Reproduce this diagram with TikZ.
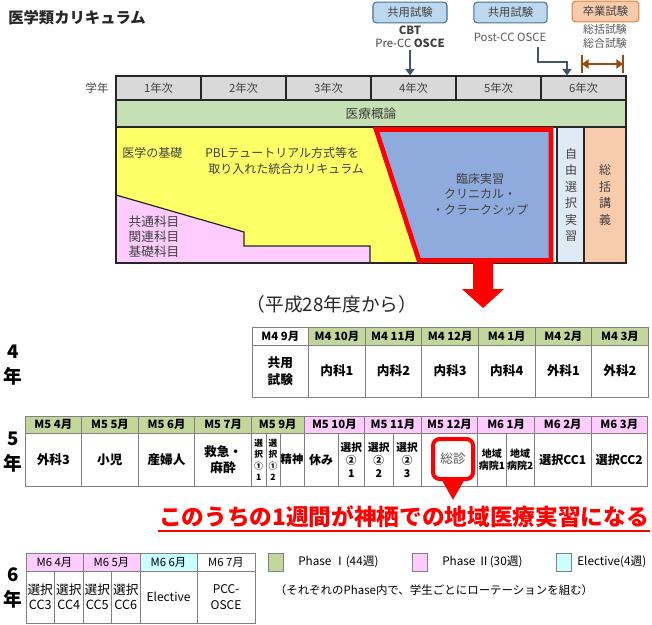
\documentclass[tikz,border=0pt]{standalone}
\usepackage{fontspec}
\setmainfont{Noto Sans CJK JP}
\usetikzlibrary{arrows.meta}
\definecolor{textgray}{HTML}{404040}
\definecolor{lightgray}{HTML}{595959}
\definecolor{framec}{HTML}{262626}
\definecolor{exfill}{HTML}{BDD7EE}
\definecolor{exborder}{HTML}{41719C}
\definecolor{gradfill}{HTML}{F8CBAD}
\definecolor{gradborder}{HTML}{ED7D31}
\definecolor{slate}{HTML}{44546A}
\definecolor{gradbrown}{HTML}{9C4A12}
\definecolor{yeargray}{HTML}{D9D9D9}
\definecolor{introgreen}{HTML}{C5E0B4}
\definecolor{basicyellow}{HTML}{FFFF66}
\definecolor{basicpink}{HTML}{FFCCFF}
\definecolor{clinblue}{HTML}{8FAADC}
\definecolor{freeblue}{HTML}{DEEBF7}
\definecolor{sumorange}{HTML}{F8CBAD}
\definecolor{phaseI}{HTML}{C4D79B}
\definecolor{phaseII}{HTML}{FFCCFF}
\definecolor{electcyan}{HTML}{CCFFFF}
\definecolor{tabline}{HTML}{808080}
\definecolor{kred}{HTML}{FF0000}

\begin{document}
\begin{tikzpicture}[x=0.75pt, y=-0.75pt,
    gtext/.style={text=textgray, inner sep=0pt, align=center, font=\fontsize{9}{12}\selectfont},
    exbox/.style={draw=exborder, fill=exfill, rounded corners=2.5pt, line width=0.8pt,
      minimum height=15.5pt, text=textgray, font=\fontsize{8.5}{10}\selectfont},
    yearcell/.style={draw=framec, fill=yeargray, line width=0.8pt, minimum width=63.75pt,
      minimum height=18pt, text=textgray, font=\fontsize{8.5}{10}\selectfont},
    exarrow/.style={draw=slate, line width=1.8pt, -{Triangle[width=7pt,length=5pt]}},
    gradline/.style={draw=gradbrown, line width=2pt},
    block/.style={draw=framec, line width=0.9pt},
    tab/.style={draw=tabline, line width=0.6pt},
    hd/.style={inner sep=0pt, font=\bfseries\fontsize{8.5}{10}\selectfont},
    bd/.style={inner sep=0pt, align=center, font=\bfseries\fontsize{9.5}{12.5}\selectfont},
    sm/.style={inner sep=0pt, align=center, font=\bfseries\fontsize{6.5}{8.6}\selectfont},
    yrlabel/.style={inner sep=0pt, align=center, font=\bfseries\fontsize{14}{18.5}\selectfont},
    legbox/.style={draw=tabline, line width=0.6pt, minimum width=11.25pt, minimum height=13.5pt, inner sep=0pt}]
  \useasboundingbox (0,0) rectangle (652,624);

  % title and exams
  \node[anchor=west, inner sep=0pt, text=framec, font=\bfseries\fontsize{11.5}{14}\selectfont] (title) at (8,18) {医学類カリキュラム};
  \node[exbox, minimum width=55.5pt] (exA) at (410,12.5) {共用試験};
  \node[exbox, minimum width=55pt] (exB) at (510.5,12.5) {共用試験};
  \node[exbox, draw=gradborder, fill=gradfill, minimum width=50pt] (exC) at (605.5,11.5) {卒業試験};
  \node[gtext, font=\bfseries\fontsize{8.5}{10}\selectfont] (cbt) at (410,30) {CBT};
  \node[gtext, font=\fontsize{8.5}{10}\selectfont] (precc) at (410,43) {Pre-CC \textbf{OSCE}};
  \node[gtext, text=lightgray, font=\fontsize{8.5}{10}\selectfont] (postcc) at (510,37) {Post-CC OSCE};
  \node[gtext, text=lightgray, font=\fontsize{8.2}{10.5}\selectfont] (sokatsu) at (605,36) {総括試験\\総合試験};

  % years
  \node[gtext, font=\fontsize{8.5}{10}\selectfont] (gakunen) at (97,88) {学年};
  \node[yearcell] (y1) at (158.5,88) {1年次};
  \node[yearcell] (y2) at (243.5,88) {2年次};
  \node[yearcell] (y3) at (328.5,88) {3年次};
  \node[yearcell] (y4) at (413.5,88) {4年次};
  \node[yearcell] (y5) at (498.5,88) {5年次};
  \node[yearcell] (y6) at (583.5,88) {6年次};

  \draw[exarrow, shorten <=2pt] (precc.south) -- (precc.south |- y4.north);
  \coordinate (postout) at (538,47);
  \coordinate (postturn) at (567,62);
  \draw[exarrow] (postout) |- (postturn) -- (postturn |- y6.north);
  \coordinate (gradL) at (582,64);
  \coordinate (gradR) at (623,64);
  \draw[gradline] (gradL) ++(0,-9) -- ++(0,18);
  \draw[gradline] (gradR) ++(0,-9) -- ++(0,18);
  \draw[gradline, {Triangle[width=7pt,length=5pt]}-{Triangle[width=7pt,length=5pt]}] (gradL) -- (gradR);

  % curriculum block
  \node[block, fill=introgreen, minimum width=382.5pt, minimum height=20.25pt, inner sep=0pt,
    text=textgray, font=\fontsize{9.5}{12}\selectfont] (intro) at (371,113.5) {医療概論};
  \fill[basicyellow] (116,127) -- (375,127) -- (418,263) -- (116,263) -- cycle;
  \filldraw[block, fill=basicpink] (116,195) -- (244,232) -- (244,246) -- (370,246) -- (370,263) -- (116,263) -- cycle;
  \draw[block] (116,127) rectangle (626,263);
  \filldraw[block, fill=freeblue] (557,127) rectangle (584,263);
  \filldraw[block, fill=sumorange] (584,127) rectangle (626,263);
  \filldraw[fill=clinblue, draw=kred, line width=3.5pt] (376,129.5) -- (551,129.5) -- (551,260.5) -- (419,260.5) -- cycle;

  \node[gtext, anchor=west] (kiso) at (122,153) {医学の基礎};
  \node[gtext, anchor=west] (pbl) at (205,153) {PBLテュートリアル方式等を};
  \node[gtext, anchor=west] (pbl2) at (208,169) {取り入れた統合カリキュラム};
  \node[gtext, align=left, font=\fontsize{9.5}{11.3}\selectfont] (kyotsu) at (154,237) {共通科目\\関連科目\\基礎科目};
  \node[gtext, font=\fontsize{9}{11.6}\selectfont] (rinsho) at (480,194) {臨床実習\\クリニカル・\\・クラークシップ};
  \node[gtext, font=\fontsize{9}{12.4}\selectfont] (jiyu) at (571,195) {自\\由\\選\\択\\実\\習};
  \node[gtext, font=\fontsize{9}{12.4}\selectfont] (sokatsuk) at (605,195) {総\\括\\講\\義};

  \fill[kred] (473,263) -- (493,263) -- (493,289) -- (504,289) -- (483,308) -- (462,289) -- (473,289) -- cycle;
  \node[inner sep=0pt, text=framec, font=\fontsize{14}{16}\selectfont] (heisei) at (332,304) {（平成28年度から）};

  % 4th year
  \node[yrlabel] (lab4) at (13,365) {4\\年};
  \fill[phaseI] (308.6,327) rectangle (648,345);
  \draw[tab] (252,327) rectangle (648,397);
  \draw[tab] (252,345) -- (648,345);
  \foreach \x in {308.6,365.2,421.8,478.4,535,591.6} \draw[tab] (\x,327) -- (\x,397);
  \node[hd] (h4a) at (280.3,336) {M4 9月};
  \node[hd] (h4b) at (336.9,336) {M4 10月};
  \node[hd] (h4c) at (393.5,336) {M4 11月};
  \node[hd] (h4d) at (450.1,336) {M4 12月};
  \node[hd] (h4e) at (506.7,336) {M4 1月};
  \node[hd] (h4f) at (563.3,336) {M4 2月};
  \node[hd] (h4g) at (619.9,336) {M4 3月};
  \node[bd] (b4a) at (280.3,371) {共用\\試験};
  \node[bd] (b4b) at (336.9,371) {内科1};
  \node[bd] (b4c) at (393.5,371) {内科2};
  \node[bd] (b4d) at (450.1,371) {内科3};
  \node[bd] (b4e) at (506.7,371) {内科4};
  \node[bd] (b4f) at (563.3,371) {外科1};
  \node[bd] (b4g) at (619.9,371) {外科2};

  % 5th year
  \node[yrlabel] (lab5) at (13,452) {5\\年};
  \fill[phaseI] (25,416) rectangle (304,433);
  \fill[phaseII] (304,416) rectangle (647.6,433);
  \draw[tab] (25,416) rectangle (647.6,486);
  \draw[tab] (25,433) -- (647.6,433);
  \foreach \x in {81.6,138.2,194.8,251.4,304,364.6,421.2,477.8,534.4,591} \draw[tab] (\x,416) -- (\x,486);
  \foreach \x in {266,280,338,393,506} \draw[tab] (\x,433) -- (\x,486);
  \node[hd] (h5a) at (53.3,424.5) {M5 4月};
  \node[hd] (h5b) at (109.9,424.5) {M5 5月};
  \node[hd] (h5c) at (166.5,424.5) {M5 6月};
  \node[hd] (h5d) at (223.1,424.5) {M5 7月};
  \node[hd] (h5e) at (277.7,424.5) {M5 9月};
  \node[hd] (h5f) at (334.3,424.5) {M5 10月};
  \node[hd] (h5g) at (392.9,424.5) {M5 11月};
  \node[hd] (h5h) at (449.5,424.5) {M5 12月};
  \node[hd] (h5i) at (506.1,424.5) {M6 1月};
  \node[hd] (h5j) at (562.7,424.5) {M6 2月};
  \node[hd] (h5k) at (619.3,424.5) {M6 3月};
  \node[bd] (b5a) at (53.3,459.5) {外科3};
  \node[bd] (b5b) at (109.9,459.5) {小児};
  \node[bd] (b5c) at (166.5,459.5) {産婦人};
  \node[bd] (b5d) at (223.1,459.5) {救急・\\麻酔};
  \node[sm] (b5e) at (258.7,460) {選\\択\\①\\1};
  \node[sm] (b5f) at (273,460) {選\\択\\①\\2};
  \node[bd, font=\bfseries\fontsize{8.5}{10}\selectfont] (b5g) at (292,459.5) {精神};
  \node[bd, font=\bfseries\fontsize{9}{10}\selectfont] (b5h) at (321,459.5) {休み};
  \node[bd, font=\bfseries\fontsize{8}{9.8}\selectfont] (b5i) at (351.3,460) {選択\\②\\1};
  \node[bd, font=\bfseries\fontsize{8}{9.8}\selectfont] (b5j) at (378.8,460) {選択\\②\\2};
  \node[bd, font=\bfseries\fontsize{8}{9.8}\selectfont] (b5k) at (407.1,460) {選択\\②\\3};
  \node[bd, font=\bfseries\fontsize{7.5}{9}\selectfont] (b5m) at (491.9,459.5) {地域\\病院1};
  \node[bd, font=\bfseries\fontsize{7.5}{9}\selectfont] (b5n) at (520.2,459.5) {地域\\病院2};
  \node[bd, font=\bfseries\fontsize{9}{11}\selectfont] (b5o) at (562.7,459.5) {選択CC1};
  \node[bd, font=\bfseries\fontsize{9}{11}\selectfont] (b5p) at (619.3,459.5) {選択CC2};
  \node[draw=kred, fill=white, line width=3pt, rounded corners=5pt, minimum width=30pt, minimum height=30pt,
    inner sep=0pt, text=lightgray, font=\fontsize{9.5}{11}\selectfont] (soshin) at (453,459) {総診};
  \fill[kred] ([xshift=-8pt]soshin.south) -- ([xshift=8pt]soshin.south) -- ([yshift=-14pt]soshin.south) -- cycle;

  \node[inner sep=0pt, text=kred, font=\bfseries\fontsize{17}{20}\selectfont] (kamisu) at (404,517) {このうちの1週間が神栖での地域医療実習になる};
  \draw[kred, line width=1.5pt] (158,531) -- (650,531);

  % 6th year
  \node[yrlabel] (lab6) at (13,588) {6\\年};
  \fill[phaseII] (26,553) rectangle (140,571);
  \fill[electcyan] (140,553) rectangle (197,571);
  \draw[tab] (26,553) rectangle (255,623);
  \draw[tab] (26,571) -- (255,571);
  \foreach \x in {83,140,197} \draw[tab] (\x,553) -- (\x,623);
  \foreach \x in {54.5,111.5} \draw[tab] (\x,571) -- (\x,623);
  \node[hd, font=\fontsize{8.5}{10}\selectfont] (h6a) at (54.5,562) {M6 4月};
  \node[hd, font=\fontsize{8.5}{10}\selectfont] (h6b) at (111.5,562) {M6 5月};
  \node[hd, font=\fontsize{8.5}{10}\selectfont] (h6c) at (168.5,562) {M6 6月};
  \node[hd, font=\fontsize{8.5}{10}\selectfont] (h6d) at (226,562) {M6 7月};
  \node[bd, font=\fontsize{9.5}{11.5}\selectfont] (b6a) at (40.25,597) {選択\\CC3};
  \node[bd, font=\fontsize{9.5}{11.5}\selectfont] (b6b) at (68.75,597) {選択\\CC4};
  \node[bd, font=\fontsize{9.5}{11.5}\selectfont] (b6c) at (97.25,597) {選択\\CC5};
  \node[bd, font=\fontsize{9.5}{11.5}\selectfont] (b6d) at (125.75,597) {選択\\CC6};
  \node[bd, font=\fontsize{9}{11}\selectfont] (b6e) at (168.5,597) {Elective};
  \node[bd, font=\fontsize{9}{11.5}\selectfont] (b6f) at (226,597) {PCC-\\OSCE};

  % legend
  \node[legbox, fill=phaseI] (lgI) at (275.5,562) {};
  \node[anchor=west, inner sep=0pt, font=\fontsize{8.8}{10}\selectfont] (lgIt) at (298,562) {Phase Ⅰ(44週)};
  \node[legbox, fill=phaseII] (lgII) at (419.5,562) {};
  \node[anchor=west, inner sep=0pt, font=\fontsize{8.8}{10}\selectfont] (lgIIt) at (442,562) {Phase Ⅱ(30週)};
  \node[legbox, fill=electcyan] (lgE) at (563.5,562) {};
  \node[anchor=west, inner sep=0pt, font=\fontsize{8.8}{10}\selectfont] (lgEt) at (577,562) {Elective(4週)};
  \node[inner sep=0pt, font=\fontsize{8.6}{10}\selectfont] (note) at (434,590) {（それぞれのPhase内で、学生ごとにローテーションを組む）};
\end{tikzpicture}
\end{document}
